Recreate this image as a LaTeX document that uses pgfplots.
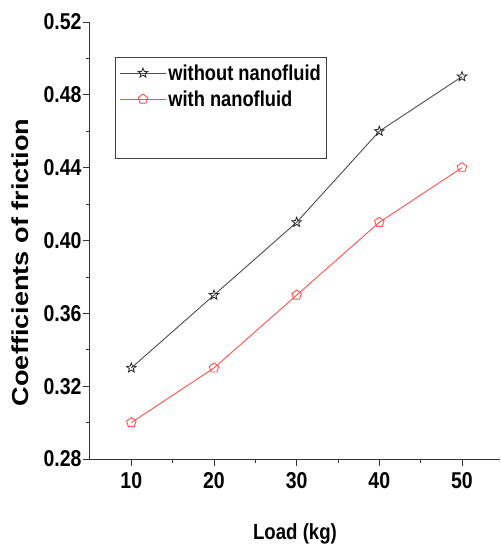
\documentclass[border=0pt]{standalone}
\usepackage{fontspec}
\setmainfont{Liberation Sans}[FakeStretch=0.85]
\newfontfamily\ylabfont{Liberation Sans}
\usepackage{pgfplots}
\pgfplotsset{compat=1.18}
\usetikzlibrary{plotmarks,calc}
\definecolor{darkline}{HTML}{4D4D4D}
\definecolor{redline}{HTML}{FF5050}
\pgfdeclareplotmark{ostar}{%
  \pgfpathmoveto{\pgfpointpolar{90}{\pgfplotmarksize}}%
  \pgfpathlineto{\pgfpointpolar{126}{0.42\pgfplotmarksize}}%
  \pgfpathlineto{\pgfpointpolar{162}{\pgfplotmarksize}}%
  \pgfpathlineto{\pgfpointpolar{198}{0.42\pgfplotmarksize}}%
  \pgfpathlineto{\pgfpointpolar{234}{\pgfplotmarksize}}%
  \pgfpathlineto{\pgfpointpolar{270}{0.42\pgfplotmarksize}}%
  \pgfpathlineto{\pgfpointpolar{306}{\pgfplotmarksize}}%
  \pgfpathlineto{\pgfpointpolar{342}{0.42\pgfplotmarksize}}%
  \pgfpathlineto{\pgfpointpolar{18}{\pgfplotmarksize}}%
  \pgfpathlineto{\pgfpointpolar{54}{0.42\pgfplotmarksize}}%
  \pgfpathclose
  \pgfusepathqstroke}
\begin{document}
\begin{tikzpicture}
\begin{axis}[
  scale only axis, width=410bp, height=437bp,
  xmin=5, xmax=54.6, ymin=0.28, ymax=0.52,
  axis lines=left, axis line style={-, line width=1bp, black!80},
  xtick={10,20,30,40,50},
  ytick={0.28,0.32,0.36,0.40,0.44,0.48,0.52},
  minor x tick num=1, minor y tick num=1,
  tick align=outside, major tick length=7bp, minor tick length=4bp,
  every tick/.style={line width=0.8bp, black!80},
  /pgf/number format/assume math mode=true,
  y tick label style={/pgf/number format/fixed, /pgf/number format/fixed zerofill, /pgf/number format/precision=2, xshift=2bp},
  ticklabel style={font=\fontsize{23}{26}\selectfont\bfseries},
  x tick label style={yshift=-3bp},
  xlabel={Load (kg)},
  xlabel style={font=\fontsize{22}{24}\selectfont\bfseries, yshift=-28bp},
  ylabel={\scalebox{1}[0.85]{\ylabfont\bfseries Coefficients of friction}},
  ylabel style={font=\fontsize{27.2}{29}\selectfont, at={(ticklabel cs:0.45)}, yshift=8bp},
  legend style={at={(25/410,402/437)}, anchor=north west,
    draw=black!75, line width=1bp, font=\fontsize{21.6}{27}\selectfont\bfseries,
    inner xsep=4bp, inner ysep=5bp, row sep=5bp},
  legend cell align=left,
  legend image code/.code={\draw[mark repeat=2, mark phase=2] plot coordinates {(0bp,0bp) (23bp,0bp) (46bp,0bp)};},
]
\addplot[darkline, line width=0.9bp, mark=ostar, mark size=5bp, mark options={solid, line width=0.8bp, black!85}]
  coordinates {(10,0.33) (20,0.37) (30,0.41) (40,0.46) (50,0.49)};
\addlegendentry{without nanofluid}
\addplot[redline, line width=0.9bp, mark=pentagon, mark size=5bp, mark options={solid, line width=0.9bp}]
  coordinates {(10,0.30) (20,0.33) (30,0.37) (40,0.41) (50,0.44)};
\addlegendentry{with nanofluid}
\addlegendimage{empty legend}\addlegendentry{\rule{0pt}{33bp}}
\coordinate (ll) at (rel axis cs:0,0);
\end{axis}
\pgfresetboundingbox
\path[use as bounding box] ($(ll)+(-90bp,-87bp)$) rectangle ($(ll)+(411bp,459bp)$);
\end{tikzpicture}
\end{document}
